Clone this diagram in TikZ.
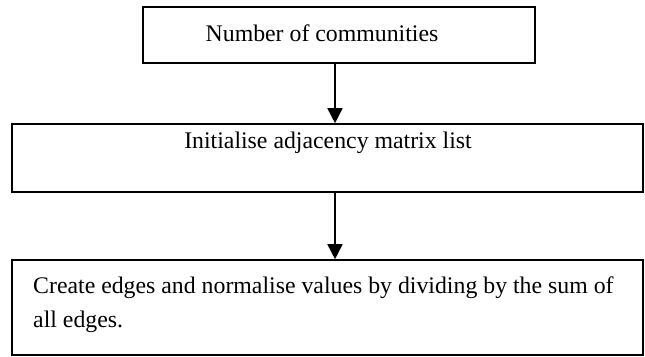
\documentclass[tikz,border=0pt]{standalone}
\usepackage{fontspec}
\setmainfont{Liberation Serif}
\usetikzlibrary{arrows.meta}
\tikzset{
  box/.style={draw=black, line width=1.6pt, rectangle, inner sep=0pt},
  flowarrow/.style={line width=1.6pt, -{Triangle[width=15pt,length=15pt]}},
  label/.style={anchor=base, inner sep=0pt, font=\fontsize{23.8}{34}\selectfont},
}
\begin{document}
\begin{tikzpicture}[x=1pt,y=-1pt]
\path[use as bounding box] (0,0) rectangle (645,356);
\node[box, minimum width=392pt, minimum height=56pt] (b1) at (339,35) {};
\node[box, minimum width=631pt, minimum height=68pt] (b2) at (327.5,158) {};
\node[box, minimum width=631pt, minimum height=95pt] (b3) at (327.5,307.5) {};
\node[label] (t1) at (322,41) {Number of communities};
\node[label] (t2) at (328,148) {Initialise adjacency matrix list};
\node[label, anchor=base west] (t3a) at (33,293) {Create edges and normalise values by dividing by the sum of};
\node[label, anchor=base west] (t3b) at (33,327) {all edges.};
\coordinate (a1) at (335,63);
\coordinate (a2) at (335,192);
\draw[flowarrow] (b1.south -| a1) -- (b2.north -| a1);
\draw[flowarrow] (b2.south -| a2) -- (b3.north -| a2);
\end{tikzpicture}
\end{document}
